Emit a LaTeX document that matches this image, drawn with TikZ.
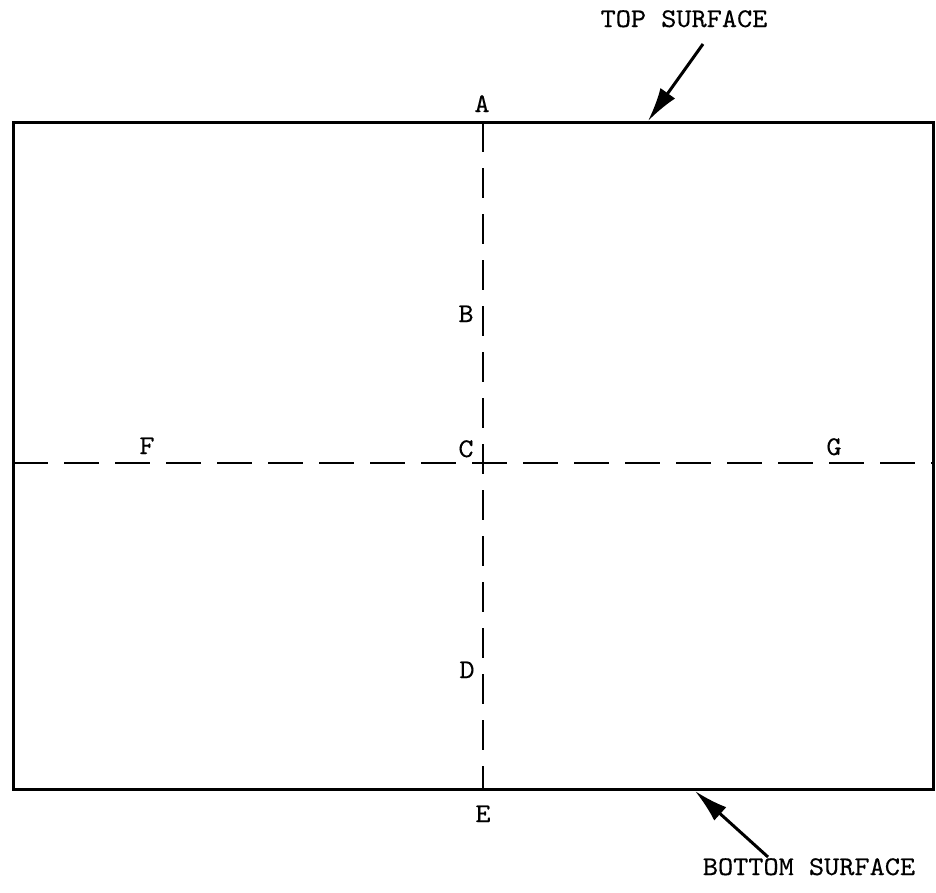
\documentclass[tikz,border=0pt]{standalone}
\usepackage{fontspec}
\setmonofont{lmmono10-regular.otf}[FakeStretch=1.07,FakeBold=0.3]
\usetikzlibrary{arrows.meta}
\begin{document}
\begin{tikzpicture}[x=1pt,y=-1pt,
  lbl/.style={font=\ttfamily\fontsize{27}{27}\selectfont, inner sep=0pt, anchor=base},
  frame/.style={line width=3pt},
  axis/.style={line width=2.6pt},
  vdash/.style={dash pattern=on 30pt off 16pt},
  hdash/.style={dash pattern=on 35pt off 16pt},
  pointer/.style={line width=3pt, -{Latex[length=34pt,width=18pt]}}]
\useasboundingbox (0,0) rectangle (936,892);
% frame corners
\coordinate (NW) at (13,122);
\coordinate (SE) at (933,789);
% axis ends
\coordinate (Atop) at (483,122);
\coordinate (Ebot) at (483,789);
\coordinate (Fl) at (13,463);
\coordinate (Gr) at (933,463);
% arrow points
\coordinate (toptail) at (703,44);
\coordinate (toptip) at (648,121);
\coordinate (bottail) at (768,857);
\coordinate (bottip) at (695,791);
\draw[frame] (NW) rectangle (SE);
\draw[axis,vdash] (Atop) -- (Ebot);
\draw[axis,hdash] (Fl) -- (Gr);
\draw[pointer] (toptail) -- (toptip);
\draw[pointer] (bottail) -- (bottip);
% labels
\node[lbl] (A) at (482,112) {A};
\node[lbl] (B) at (466,322) {B};
\node[lbl] (C) at (466,457) {C};
\node[lbl] (D) at (467,678) {D};
\node[lbl] (E) at (483,822) {E};
\node[lbl] (F) at (147,454) {F};
\node[lbl] (G) at (834,455) {G};
\node[lbl] (top) at (684,27) {TOP SURFACE};
\node[lbl] (bot) at (809,875) {BOTTOM SURFACE};
\end{tikzpicture}
\end{document}
